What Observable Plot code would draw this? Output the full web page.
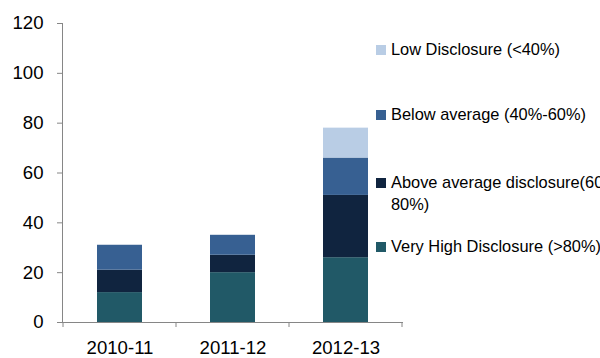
<!DOCTYPE html>
<html><head><meta charset="utf-8">
<script src="https://cdn.jsdelivr.net/npm/d3@7"></script>
<script src="https://cdn.jsdelivr.net/npm/@observablehq/plot@0.6"></script>
<style>
html,body{margin:0;padding:0;background:#fff;}
#wrap{position:relative;width:600px;height:358px;overflow:hidden;font-family:"Liberation Sans",Arial,sans-serif;}
#wrap svg{position:absolute;left:0;top:0;}
#legend{position:absolute;left:376px;top:0;width:400px;font-size:16.4px;color:#000;white-space:nowrap;}
.item{position:absolute;left:0;line-height:22px;}
.sw{position:absolute;left:0;top:7px;width:10px;height:10px;}
.txt{position:absolute;left:15px;top:0;}
</style></head><body><div id="wrap"><div id="legend"></div></div>
<script>
const years = ["2010-11", "2011-12", "2012-13"];
const series = ["Very High Disclosure (>80%)", "Above average disclosure(60-80%)", "Below average (40%-60%)", "Low Disclosure (<40%)"];
const colors = ["#215967", "#10243F", "#376092", "#B9CDE5"];
const veryHigh = [12, 20, 26];
const aboveAvg = [9, 7, 25];
const belowAvg = [10, 8, 15];
const lowDisc = [0, 0, 12];
const yTicks = [0, 20, 40, 60, 80, 100, 120];
const legendOrder = [3, 2, 1, 0];
const legendLines = [["Very High Disclosure (>80%)"], ["Above average disclosure(60-", "80%)"], ["Below average (40%-60%)"], ["Low Disclosure (<40%)"]];
const legendTop = [235, 171, 103, 38];

const valuesBySeries = [veryHigh, aboveAvg, belowAvg, lowDisc];
const data = [];
years.forEach((yr, i) => {
  series.forEach((s, k) => data.push({year: yr, series: s, value: valuesBySeries[k][i]}));
});

const plot = Plot.plot({
  width: 600,
  height: 358,
  marginLeft: 62,
  marginRight: 197,
  marginTop: 23,
  marginBottom: 36,
  style: {fontFamily: '"Liberation Sans", Arial, sans-serif', fontSize: "18.6px", background: "transparent", overflow: "visible"},
  x: {domain: years, paddingInner: 0.6, paddingOuter: 0.3, label: null},
  y: {domain: [0, 120], label: null},
  color: {domain: series, range: colors},
  marks: [
    Plot.barY(data, {x: "year", y: "value", fill: "series"}),
    Plot.axisY({ticks: yTicks, tickSize: 5, tickPadding: 14, stroke: "#868686", fill: "#000", label: null}),
    Plot.axisX({tickSize: 0, tickPadding: 18, fill: "#000", label: null}),
    Plot.frame({anchor: "left", stroke: "#868686"}),
    Plot.ruleY([0], {stroke: "#868686"})
  ]
});
document.getElementById("wrap").prepend(plot);

// category-boundary tick marks on the x axis, placed with the plot's own x scale
const xs = plot.scale("x");
const ys = plot.scale("y");
const svg = d3.select(plot);
const half = (xs.step - xs.bandwidth) / 2;
const bounds = years.map(y => xs.apply(y) - half);
bounds.push(xs.apply(years[years.length - 1]) + xs.bandwidth + half);
const y0 = ys.apply(0);
svg.append("g").selectAll("line").data(bounds).join("line")
  .attr("x1", d => d).attr("x2", d => d)
  .attr("y1", y0).attr("y2", y0 + 5)
  .attr("stroke", "#868686");

const legend = d3.select("#legend");
legendOrder.forEach(k => {
  const it = legend.append("div").attr("class", "item").style("top", legendTop[k] + "px");
  it.append("div").attr("class", "sw").style("background", colors[k]);
  const t = it.append("div").attr("class", "txt");
  legendLines[k].forEach(line => t.append("div").text(line));
});
</script></body></html>
